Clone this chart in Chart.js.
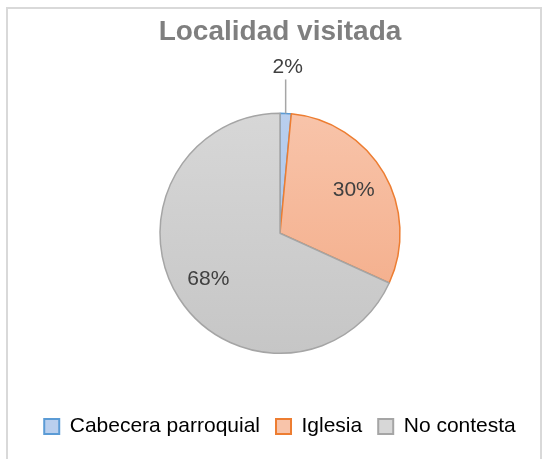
<!DOCTYPE html>
<html>
<head>
<meta charset="utf-8">
<script src="https://cdn.jsdelivr.net/npm/chart.js@4.4.1/dist/chart.umd.min.js"></script>
<style>
  html, body { margin: 0; padding: 0; background: #fff; }
  #wrap { position: relative; width: 542px; height: 459px; }
  #frame {
    position: absolute; left: 6px; top: 7px; width: 532px; height: 470px;
    border: 2px solid #d9d9d9; pointer-events: none;
  }
  canvas { position: absolute; left: 0; top: 0; }
</style>
</head>
<body>
<div id="wrap">
  <canvas id="pieChart" width="542" height="459"></canvas>
  <div id="frame"></div>
</div>
<script>
var categories = ['Cabecera parroquial', 'Iglesia', 'No contesta'];
var percentages = [1.5, 30.3, 68.2];
var percentLabels = ['2%', '30%', '68%'];

var fillTop = ['#b9cfee', '#f8c4aa', '#d7d7d7'];
var fillBottom = ['#a4bfe6', '#f3a984', '#c6c6c6'];
var borderColors = ['#5b9bd5', '#ed7d31', '#a5a5a5'];

function sliceFill(context) {
  var chart = context.chart;
  var area = chart.chartArea;
  var i = context.dataIndex;
  if (!area) return fillTop[i];
  var cy = (area.top + area.bottom) / 2;
  var g = chart.ctx.createLinearGradient(0, cy - 120, 0, cy + 120);
  g.addColorStop(0, fillTop[i]);
  g.addColorStop(1, fillBottom[i]);
  return g;
}

var sliceLabels = {
  id: 'sliceLabels',
  afterDatasetsDraw: function (chart) {
    var ctx = chart.ctx;
    var meta = chart.getDatasetMeta(0);
    ctx.save();
    ctx.font = '21px "Liberation Sans", Arial, sans-serif';
    ctx.fillStyle = '#404040';
    ctx.textAlign = 'center';
    ctx.textBaseline = 'middle';
    meta.data.forEach(function (arc, i) {
      var p = arc.getProps(['x', 'y', 'startAngle', 'endAngle', 'outerRadius'], true);
      var mid = (p.startAngle + p.endAngle) / 2;
      var share = percentages[i] / 100;
      if (share < 0.05) {
        // small slice: label outside with a leader line
        var ax = p.x + Math.cos(mid) * p.outerRadius;
        var ay = p.y + Math.sin(mid) * p.outerRadius;
        ctx.strokeStyle = '#a6a6a6';
        ctx.lineWidth = 1.5;
        ctx.beginPath();
        ctx.moveTo(ax, ay);
        ctx.lineTo(ax, ay - 34);
        ctx.stroke();
        ctx.fillText(percentLabels[i], ax + 2, ay - 46);
      } else {
        var r = p.outerRadius * 0.71;
        ctx.fillText(percentLabels[i], p.x + Math.cos(mid) * r, p.y + Math.sin(mid) * r);
      }
    });
    ctx.restore();
  }
};

new Chart(document.getElementById('pieChart'), {
  type: 'pie',
  data: {
    labels: categories,
    datasets: [{
      data: percentages,
      backgroundColor: sliceFill,
      borderColor: borderColors,
      borderWidth: 1.5
    }]
  },
  options: {
    responsive: false,
    animation: false,
    radius: 120,
    layout: { padding: { top: 0, bottom: 12, left: 26, right: 8 } },
    plugins: {
      title: {
        display: true,
        text: 'Localidad visitada',
        color: '#7f7f7f',
        font: { family: '"Liberation Sans", Arial, sans-serif', size: 28, weight: 'bold' },
        padding: { top: 15, bottom: 18 }
      },
      legend: {
        position: 'bottom',
        labels: {
          color: '#737373',
          font: { family: '"Liberation Sans", Arial, sans-serif', size: 21 },
          boxWidth: 15,
          boxHeight: 15,
          padding: 16,
          generateLabels: function (chart) {
            return categories.map(function (c, i) {
              return {
                text: c,
                fillStyle: fillTop[i],
                strokeStyle: borderColors[i],
                lineWidth: 2,
                index: i
              };
            });
          }
        }
      },
      tooltip: { enabled: false }
    }
  },
  plugins: [sliceLabels]
});
</script>
</body>
</html>
